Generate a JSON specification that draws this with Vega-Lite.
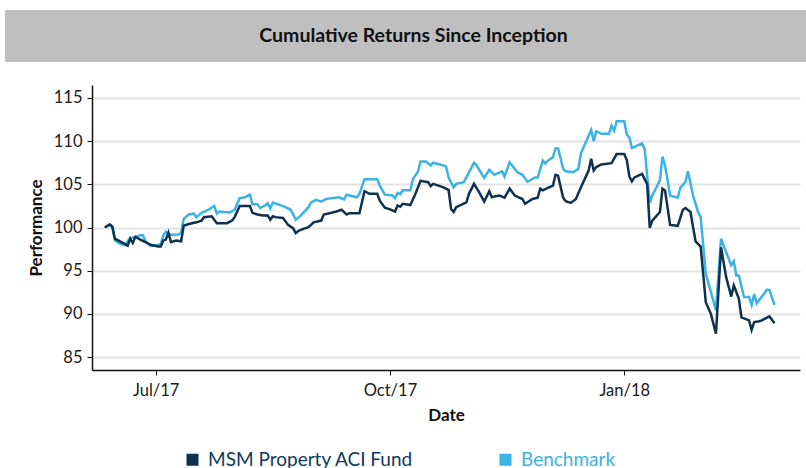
{
  "$schema": "https://vega.github.io/schema/vega-lite/v6.json",
  "padding": {"left": 5, "top": 10, "right": 0, "bottom": 0},
  "background": "white",
  "config": {"font": "Lato", "view": {"stroke": null}},
  "bounds": "flush",
  "center": true,
  "spacing": 23,
  "resolve": {"scale": {"color": "independent"}, "legend": {"color": "independent"}},
  "datasets": {
    "perf": [
      {"date": "2017-06-11", "series": "Benchmark", "value": 100.0},
      {"date": "2017-06-13", "series": "Benchmark", "value": 100.35},
      {"date": "2017-06-14", "series": "Benchmark", "value": 100.0},
      {"date": "2017-06-15", "series": "Benchmark", "value": 98.5},
      {"date": "2017-06-17", "series": "Benchmark", "value": 98.1},
      {"date": "2017-06-19", "series": "Benchmark", "value": 98.0},
      {"date": "2017-06-21", "series": "Benchmark", "value": 98.8},
      {"date": "2017-06-23", "series": "Benchmark", "value": 98.9},
      {"date": "2017-06-25", "series": "Benchmark", "value": 99.1},
      {"date": "2017-06-26", "series": "Benchmark", "value": 99.1},
      {"date": "2017-06-27", "series": "Benchmark", "value": 98.4},
      {"date": "2017-06-29", "series": "Benchmark", "value": 97.9},
      {"date": "2017-07-01", "series": "Benchmark", "value": 97.9},
      {"date": "2017-07-03", "series": "Benchmark", "value": 98.1},
      {"date": "2017-07-04", "series": "Benchmark", "value": 99.1},
      {"date": "2017-07-05", "series": "Benchmark", "value": 99.5},
      {"date": "2017-07-06", "series": "Benchmark", "value": 99.3},
      {"date": "2017-07-07", "series": "Benchmark", "value": 99.15},
      {"date": "2017-07-10", "series": "Benchmark", "value": 99.2},
      {"date": "2017-07-11", "series": "Benchmark", "value": 99.4},
      {"date": "2017-07-12", "series": "Benchmark", "value": 101.0},
      {"date": "2017-07-14", "series": "Benchmark", "value": 101.5},
      {"date": "2017-07-16", "series": "Benchmark", "value": 101.6},
      {"date": "2017-07-17", "series": "Benchmark", "value": 101.2},
      {"date": "2017-07-19", "series": "Benchmark", "value": 101.7},
      {"date": "2017-07-22", "series": "Benchmark", "value": 102.1},
      {"date": "2017-07-24", "series": "Benchmark", "value": 102.5},
      {"date": "2017-07-25", "series": "Benchmark", "value": 101.6},
      {"date": "2017-07-26", "series": "Benchmark", "value": 101.85},
      {"date": "2017-07-30", "series": "Benchmark", "value": 101.75},
      {"date": "2017-08-01", "series": "Benchmark", "value": 102.05},
      {"date": "2017-08-03", "series": "Benchmark", "value": 103.4},
      {"date": "2017-08-05", "series": "Benchmark", "value": 103.5},
      {"date": "2017-08-07", "series": "Benchmark", "value": 103.8},
      {"date": "2017-08-08", "series": "Benchmark", "value": 102.7},
      {"date": "2017-08-10", "series": "Benchmark", "value": 102.7},
      {"date": "2017-08-11", "series": "Benchmark", "value": 102.25},
      {"date": "2017-08-13", "series": "Benchmark", "value": 102.55},
      {"date": "2017-08-14", "series": "Benchmark", "value": 102.8},
      {"date": "2017-08-15", "series": "Benchmark", "value": 102.2},
      {"date": "2017-08-16", "series": "Benchmark", "value": 102.9},
      {"date": "2017-08-19", "series": "Benchmark", "value": 102.6},
      {"date": "2017-08-21", "series": "Benchmark", "value": 102.35},
      {"date": "2017-08-23", "series": "Benchmark", "value": 102.05},
      {"date": "2017-08-24", "series": "Benchmark", "value": 101.5},
      {"date": "2017-08-25", "series": "Benchmark", "value": 100.9},
      {"date": "2017-08-27", "series": "Benchmark", "value": 101.4},
      {"date": "2017-08-30", "series": "Benchmark", "value": 102.35},
      {"date": "2017-08-31", "series": "Benchmark", "value": 102.9},
      {"date": "2017-09-02", "series": "Benchmark", "value": 103.2},
      {"date": "2017-09-04", "series": "Benchmark", "value": 103.0},
      {"date": "2017-09-06", "series": "Benchmark", "value": 103.3},
      {"date": "2017-09-08", "series": "Benchmark", "value": 103.4},
      {"date": "2017-09-11", "series": "Benchmark", "value": 103.5},
      {"date": "2017-09-13", "series": "Benchmark", "value": 103.25},
      {"date": "2017-09-14", "series": "Benchmark", "value": 103.8},
      {"date": "2017-09-18", "series": "Benchmark", "value": 103.5},
      {"date": "2017-09-19", "series": "Benchmark", "value": 103.9},
      {"date": "2017-09-21", "series": "Benchmark", "value": 105.6},
      {"date": "2017-09-26", "series": "Benchmark", "value": 105.6},
      {"date": "2017-09-27", "series": "Benchmark", "value": 104.85},
      {"date": "2017-09-29", "series": "Benchmark", "value": 103.8},
      {"date": "2017-10-02", "series": "Benchmark", "value": 103.7},
      {"date": "2017-10-03", "series": "Benchmark", "value": 103.4},
      {"date": "2017-10-04", "series": "Benchmark", "value": 104.0},
      {"date": "2017-10-05", "series": "Benchmark", "value": 103.85},
      {"date": "2017-10-06", "series": "Benchmark", "value": 104.3},
      {"date": "2017-10-09", "series": "Benchmark", "value": 104.3},
      {"date": "2017-10-10", "series": "Benchmark", "value": 105.6},
      {"date": "2017-10-12", "series": "Benchmark", "value": 106.5},
      {"date": "2017-10-13", "series": "Benchmark", "value": 107.65},
      {"date": "2017-10-15", "series": "Benchmark", "value": 107.65},
      {"date": "2017-10-17", "series": "Benchmark", "value": 107.2},
      {"date": "2017-10-18", "series": "Benchmark", "value": 107.5},
      {"date": "2017-10-23", "series": "Benchmark", "value": 107.1},
      {"date": "2017-10-24", "series": "Benchmark", "value": 105.8},
      {"date": "2017-10-26", "series": "Benchmark", "value": 104.65},
      {"date": "2017-10-27", "series": "Benchmark", "value": 105.05},
      {"date": "2017-10-30", "series": "Benchmark", "value": 105.25},
      {"date": "2017-10-31", "series": "Benchmark", "value": 105.8},
      {"date": "2017-11-03", "series": "Benchmark", "value": 107.5},
      {"date": "2017-11-04", "series": "Benchmark", "value": 107.2},
      {"date": "2017-11-07", "series": "Benchmark", "value": 105.75},
      {"date": "2017-11-09", "series": "Benchmark", "value": 106.7},
      {"date": "2017-11-11", "series": "Benchmark", "value": 106.1},
      {"date": "2017-11-14", "series": "Benchmark", "value": 106.5},
      {"date": "2017-11-15", "series": "Benchmark", "value": 105.9},
      {"date": "2017-11-17", "series": "Benchmark", "value": 107.55},
      {"date": "2017-11-20", "series": "Benchmark", "value": 106.4},
      {"date": "2017-11-22", "series": "Benchmark", "value": 106.1},
      {"date": "2017-11-24", "series": "Benchmark", "value": 105.3},
      {"date": "2017-11-27", "series": "Benchmark", "value": 105.8},
      {"date": "2017-11-28", "series": "Benchmark", "value": 105.8},
      {"date": "2017-11-30", "series": "Benchmark", "value": 107.75},
      {"date": "2017-12-01", "series": "Benchmark", "value": 107.4},
      {"date": "2017-12-02", "series": "Benchmark", "value": 107.75},
      {"date": "2017-12-04", "series": "Benchmark", "value": 108.15},
      {"date": "2017-12-05", "series": "Benchmark", "value": 109.15},
      {"date": "2017-12-06", "series": "Benchmark", "value": 109.15},
      {"date": "2017-12-08", "series": "Benchmark", "value": 106.8},
      {"date": "2017-12-09", "series": "Benchmark", "value": 106.5},
      {"date": "2017-12-12", "series": "Benchmark", "value": 106.4},
      {"date": "2017-12-14", "series": "Benchmark", "value": 106.8},
      {"date": "2017-12-15", "series": "Benchmark", "value": 108.6},
      {"date": "2017-12-19", "series": "Benchmark", "value": 111.3},
      {"date": "2017-12-20", "series": "Benchmark", "value": 110.0},
      {"date": "2017-12-21", "series": "Benchmark", "value": 111.15},
      {"date": "2017-12-23", "series": "Benchmark", "value": 110.85},
      {"date": "2017-12-26", "series": "Benchmark", "value": 110.85},
      {"date": "2017-12-27", "series": "Benchmark", "value": 111.8},
      {"date": "2017-12-28", "series": "Benchmark", "value": 111.2},
      {"date": "2017-12-29", "series": "Benchmark", "value": 112.3},
      {"date": "2018-01-01", "series": "Benchmark", "value": 112.3},
      {"date": "2018-01-02", "series": "Benchmark", "value": 110.75},
      {"date": "2018-01-03", "series": "Benchmark", "value": 110.45},
      {"date": "2018-01-04", "series": "Benchmark", "value": 109.2},
      {"date": "2018-01-08", "series": "Benchmark", "value": 109.75},
      {"date": "2018-01-09", "series": "Benchmark", "value": 109.1},
      {"date": "2018-01-11", "series": "Benchmark", "value": 102.9},
      {"date": "2018-01-12", "series": "Benchmark", "value": 103.7},
      {"date": "2018-01-15", "series": "Benchmark", "value": 105.45},
      {"date": "2018-01-16", "series": "Benchmark", "value": 108.2},
      {"date": "2018-01-17", "series": "Benchmark", "value": 107.2},
      {"date": "2018-01-19", "series": "Benchmark", "value": 103.7},
      {"date": "2018-01-22", "series": "Benchmark", "value": 103.45},
      {"date": "2018-01-23", "series": "Benchmark", "value": 104.6},
      {"date": "2018-01-25", "series": "Benchmark", "value": 105.25},
      {"date": "2018-01-26", "series": "Benchmark", "value": 106.5},
      {"date": "2018-01-28", "series": "Benchmark", "value": 103.7},
      {"date": "2018-01-30", "series": "Benchmark", "value": 101.8},
      {"date": "2018-01-31", "series": "Benchmark", "value": 101.2},
      {"date": "2018-02-02", "series": "Benchmark", "value": 94.65},
      {"date": "2018-02-06", "series": "Benchmark", "value": 90.4},
      {"date": "2018-02-08", "series": "Benchmark", "value": 98.7},
      {"date": "2018-02-10", "series": "Benchmark", "value": 97.15},
      {"date": "2018-02-12", "series": "Benchmark", "value": 95.6},
      {"date": "2018-02-13", "series": "Benchmark", "value": 96.1},
      {"date": "2018-02-14", "series": "Benchmark", "value": 94.45},
      {"date": "2018-02-15", "series": "Benchmark", "value": 94.45},
      {"date": "2018-02-17", "series": "Benchmark", "value": 91.95},
      {"date": "2018-02-19", "series": "Benchmark", "value": 91.95},
      {"date": "2018-02-20", "series": "Benchmark", "value": 91.05},
      {"date": "2018-02-21", "series": "Benchmark", "value": 92.3},
      {"date": "2018-02-22", "series": "Benchmark", "value": 91.2},
      {"date": "2018-02-26", "series": "Benchmark", "value": 92.8},
      {"date": "2018-02-27", "series": "Benchmark", "value": 92.75},
      {"date": "2018-03-01", "series": "Benchmark", "value": 91.05},
      {"date": "2017-06-11", "series": "MSM Property ACI Fund", "value": 100.0},
      {"date": "2017-06-13", "series": "MSM Property ACI Fund", "value": 100.35},
      {"date": "2017-06-14", "series": "MSM Property ACI Fund", "value": 100.1},
      {"date": "2017-06-15", "series": "MSM Property ACI Fund", "value": 98.7},
      {"date": "2017-06-17", "series": "MSM Property ACI Fund", "value": 98.4},
      {"date": "2017-06-20", "series": "MSM Property ACI Fund", "value": 97.9},
      {"date": "2017-06-21", "series": "MSM Property ACI Fund", "value": 98.7},
      {"date": "2017-06-22", "series": "MSM Property ACI Fund", "value": 98.2},
      {"date": "2017-06-23", "series": "MSM Property ACI Fund", "value": 98.9},
      {"date": "2017-06-25", "series": "MSM Property ACI Fund", "value": 98.6},
      {"date": "2017-06-27", "series": "MSM Property ACI Fund", "value": 98.3},
      {"date": "2017-06-29", "series": "MSM Property ACI Fund", "value": 98.0},
      {"date": "2017-07-02", "series": "MSM Property ACI Fund", "value": 97.8},
      {"date": "2017-07-03", "series": "MSM Property ACI Fund", "value": 97.8},
      {"date": "2017-07-04", "series": "MSM Property ACI Fund", "value": 98.5},
      {"date": "2017-07-05", "series": "MSM Property ACI Fund", "value": 98.6},
      {"date": "2017-07-06", "series": "MSM Property ACI Fund", "value": 99.4},
      {"date": "2017-07-07", "series": "MSM Property ACI Fund", "value": 98.3},
      {"date": "2017-07-09", "series": "MSM Property ACI Fund", "value": 98.5},
      {"date": "2017-07-11", "series": "MSM Property ACI Fund", "value": 98.4},
      {"date": "2017-07-12", "series": "MSM Property ACI Fund", "value": 100.2},
      {"date": "2017-07-14", "series": "MSM Property ACI Fund", "value": 100.4},
      {"date": "2017-07-17", "series": "MSM Property ACI Fund", "value": 100.6},
      {"date": "2017-07-19", "series": "MSM Property ACI Fund", "value": 100.8},
      {"date": "2017-07-20", "series": "MSM Property ACI Fund", "value": 101.2},
      {"date": "2017-07-23", "series": "MSM Property ACI Fund", "value": 101.3},
      {"date": "2017-07-25", "series": "MSM Property ACI Fund", "value": 100.5},
      {"date": "2017-07-29", "series": "MSM Property ACI Fund", "value": 100.5},
      {"date": "2017-07-31", "series": "MSM Property ACI Fund", "value": 100.8},
      {"date": "2017-08-01", "series": "MSM Property ACI Fund", "value": 101.2},
      {"date": "2017-08-03", "series": "MSM Property ACI Fund", "value": 102.5},
      {"date": "2017-08-07", "series": "MSM Property ACI Fund", "value": 102.5},
      {"date": "2017-08-08", "series": "MSM Property ACI Fund", "value": 101.7},
      {"date": "2017-08-10", "series": "MSM Property ACI Fund", "value": 101.5},
      {"date": "2017-08-12", "series": "MSM Property ACI Fund", "value": 101.4},
      {"date": "2017-08-14", "series": "MSM Property ACI Fund", "value": 101.4},
      {"date": "2017-08-15", "series": "MSM Property ACI Fund", "value": 100.9},
      {"date": "2017-08-16", "series": "MSM Property ACI Fund", "value": 101.3},
      {"date": "2017-08-17", "series": "MSM Property ACI Fund", "value": 101.2},
      {"date": "2017-08-20", "series": "MSM Property ACI Fund", "value": 101.1},
      {"date": "2017-08-22", "series": "MSM Property ACI Fund", "value": 100.3},
      {"date": "2017-08-24", "series": "MSM Property ACI Fund", "value": 99.9},
      {"date": "2017-08-25", "series": "MSM Property ACI Fund", "value": 99.35},
      {"date": "2017-08-26", "series": "MSM Property ACI Fund", "value": 99.6},
      {"date": "2017-08-28", "series": "MSM Property ACI Fund", "value": 99.85},
      {"date": "2017-08-30", "series": "MSM Property ACI Fund", "value": 100.05},
      {"date": "2017-08-31", "series": "MSM Property ACI Fund", "value": 100.3},
      {"date": "2017-09-01", "series": "MSM Property ACI Fund", "value": 100.6},
      {"date": "2017-09-04", "series": "MSM Property ACI Fund", "value": 100.8},
      {"date": "2017-09-05", "series": "MSM Property ACI Fund", "value": 101.5},
      {"date": "2017-09-08", "series": "MSM Property ACI Fund", "value": 101.7},
      {"date": "2017-09-10", "series": "MSM Property ACI Fund", "value": 101.85},
      {"date": "2017-09-12", "series": "MSM Property ACI Fund", "value": 102.05},
      {"date": "2017-09-14", "series": "MSM Property ACI Fund", "value": 101.5},
      {"date": "2017-09-15", "series": "MSM Property ACI Fund", "value": 101.65},
      {"date": "2017-09-19", "series": "MSM Property ACI Fund", "value": 101.65},
      {"date": "2017-09-21", "series": "MSM Property ACI Fund", "value": 104.2},
      {"date": "2017-09-23", "series": "MSM Property ACI Fund", "value": 103.9},
      {"date": "2017-09-26", "series": "MSM Property ACI Fund", "value": 103.9},
      {"date": "2017-09-27", "series": "MSM Property ACI Fund", "value": 103.1},
      {"date": "2017-09-29", "series": "MSM Property ACI Fund", "value": 102.3},
      {"date": "2017-10-01", "series": "MSM Property ACI Fund", "value": 102.1},
      {"date": "2017-10-03", "series": "MSM Property ACI Fund", "value": 101.85},
      {"date": "2017-10-04", "series": "MSM Property ACI Fund", "value": 102.55},
      {"date": "2017-10-05", "series": "MSM Property ACI Fund", "value": 102.4},
      {"date": "2017-10-06", "series": "MSM Property ACI Fund", "value": 102.75},
      {"date": "2017-10-09", "series": "MSM Property ACI Fund", "value": 102.6},
      {"date": "2017-10-11", "series": "MSM Property ACI Fund", "value": 103.9},
      {"date": "2017-10-13", "series": "MSM Property ACI Fund", "value": 105.4},
      {"date": "2017-10-16", "series": "MSM Property ACI Fund", "value": 105.25},
      {"date": "2017-10-17", "series": "MSM Property ACI Fund", "value": 104.8},
      {"date": "2017-10-18", "series": "MSM Property ACI Fund", "value": 105.05},
      {"date": "2017-10-22", "series": "MSM Property ACI Fund", "value": 104.65},
      {"date": "2017-10-24", "series": "MSM Property ACI Fund", "value": 104.35},
      {"date": "2017-10-25", "series": "MSM Property ACI Fund", "value": 102.15},
      {"date": "2017-10-26", "series": "MSM Property ACI Fund", "value": 101.8},
      {"date": "2017-10-27", "series": "MSM Property ACI Fund", "value": 102.35},
      {"date": "2017-10-31", "series": "MSM Property ACI Fund", "value": 102.9},
      {"date": "2017-11-01", "series": "MSM Property ACI Fund", "value": 103.9},
      {"date": "2017-11-03", "series": "MSM Property ACI Fund", "value": 105.05},
      {"date": "2017-11-05", "series": "MSM Property ACI Fund", "value": 104.1},
      {"date": "2017-11-07", "series": "MSM Property ACI Fund", "value": 103.0},
      {"date": "2017-11-08", "series": "MSM Property ACI Fund", "value": 103.6},
      {"date": "2017-11-09", "series": "MSM Property ACI Fund", "value": 104.2},
      {"date": "2017-11-10", "series": "MSM Property ACI Fund", "value": 103.5},
      {"date": "2017-11-11", "series": "MSM Property ACI Fund", "value": 103.6},
      {"date": "2017-11-13", "series": "MSM Property ACI Fund", "value": 103.7},
      {"date": "2017-11-15", "series": "MSM Property ACI Fund", "value": 103.45},
      {"date": "2017-11-17", "series": "MSM Property ACI Fund", "value": 104.5},
      {"date": "2017-11-19", "series": "MSM Property ACI Fund", "value": 103.7},
      {"date": "2017-11-22", "series": "MSM Property ACI Fund", "value": 103.3},
      {"date": "2017-11-23", "series": "MSM Property ACI Fund", "value": 102.75},
      {"date": "2017-11-26", "series": "MSM Property ACI Fund", "value": 103.3},
      {"date": "2017-11-28", "series": "MSM Property ACI Fund", "value": 103.45},
      {"date": "2017-11-29", "series": "MSM Property ACI Fund", "value": 104.5},
      {"date": "2017-11-30", "series": "MSM Property ACI Fund", "value": 104.3},
      {"date": "2017-12-02", "series": "MSM Property ACI Fund", "value": 104.6},
      {"date": "2017-12-04", "series": "MSM Property ACI Fund", "value": 104.85},
      {"date": "2017-12-05", "series": "MSM Property ACI Fund", "value": 106.1},
      {"date": "2017-12-06", "series": "MSM Property ACI Fund", "value": 106.0},
      {"date": "2017-12-08", "series": "MSM Property ACI Fund", "value": 103.45},
      {"date": "2017-12-09", "series": "MSM Property ACI Fund", "value": 103.05},
      {"date": "2017-12-11", "series": "MSM Property ACI Fund", "value": 102.85},
      {"date": "2017-12-13", "series": "MSM Property ACI Fund", "value": 103.3},
      {"date": "2017-12-15", "series": "MSM Property ACI Fund", "value": 104.65},
      {"date": "2017-12-18", "series": "MSM Property ACI Fund", "value": 106.6},
      {"date": "2017-12-19", "series": "MSM Property ACI Fund", "value": 107.95},
      {"date": "2017-12-20", "series": "MSM Property ACI Fund", "value": 106.6},
      {"date": "2017-12-21", "series": "MSM Property ACI Fund", "value": 107.0},
      {"date": "2017-12-23", "series": "MSM Property ACI Fund", "value": 107.3},
      {"date": "2017-12-27", "series": "MSM Property ACI Fund", "value": 107.45},
      {"date": "2017-12-29", "series": "MSM Property ACI Fund", "value": 108.5},
      {"date": "2018-01-01", "series": "MSM Property ACI Fund", "value": 108.5},
      {"date": "2018-01-02", "series": "MSM Property ACI Fund", "value": 107.8},
      {"date": "2018-01-03", "series": "MSM Property ACI Fund", "value": 105.9},
      {"date": "2018-01-04", "series": "MSM Property ACI Fund", "value": 105.35},
      {"date": "2018-01-05", "series": "MSM Property ACI Fund", "value": 105.8},
      {"date": "2018-01-08", "series": "MSM Property ACI Fund", "value": 106.2},
      {"date": "2018-01-09", "series": "MSM Property ACI Fund", "value": 105.6},
      {"date": "2018-01-10", "series": "MSM Property ACI Fund", "value": 105.0},
      {"date": "2018-01-11", "series": "MSM Property ACI Fund", "value": 99.95},
      {"date": "2018-01-12", "series": "MSM Property ACI Fund", "value": 100.8},
      {"date": "2018-01-15", "series": "MSM Property ACI Fund", "value": 101.8},
      {"date": "2018-01-16", "series": "MSM Property ACI Fund", "value": 104.5},
      {"date": "2018-01-17", "series": "MSM Property ACI Fund", "value": 104.3},
      {"date": "2018-01-19", "series": "MSM Property ACI Fund", "value": 100.3},
      {"date": "2018-01-22", "series": "MSM Property ACI Fund", "value": 100.2},
      {"date": "2018-01-24", "series": "MSM Property ACI Fund", "value": 102.05},
      {"date": "2018-01-25", "series": "MSM Property ACI Fund", "value": 102.25},
      {"date": "2018-01-27", "series": "MSM Property ACI Fund", "value": 101.8},
      {"date": "2018-01-28", "series": "MSM Property ACI Fund", "value": 100.05},
      {"date": "2018-01-29", "series": "MSM Property ACI Fund", "value": 98.4},
      {"date": "2018-01-31", "series": "MSM Property ACI Fund", "value": 97.8},
      {"date": "2018-02-02", "series": "MSM Property ACI Fund", "value": 91.35},
      {"date": "2018-02-04", "series": "MSM Property ACI Fund", "value": 90.0},
      {"date": "2018-02-06", "series": "MSM Property ACI Fund", "value": 87.7},
      {"date": "2018-02-08", "series": "MSM Property ACI Fund", "value": 97.7},
      {"date": "2018-02-10", "series": "MSM Property ACI Fund", "value": 94.25},
      {"date": "2018-02-12", "series": "MSM Property ACI Fund", "value": 92.0},
      {"date": "2018-02-13", "series": "MSM Property ACI Fund", "value": 93.3},
      {"date": "2018-02-15", "series": "MSM Property ACI Fund", "value": 91.75},
      {"date": "2018-02-16", "series": "MSM Property ACI Fund", "value": 89.6},
      {"date": "2018-02-19", "series": "MSM Property ACI Fund", "value": 89.25},
      {"date": "2018-02-20", "series": "MSM Property ACI Fund", "value": 88.15},
      {"date": "2018-02-21", "series": "MSM Property ACI Fund", "value": 89.05},
      {"date": "2018-02-23", "series": "MSM Property ACI Fund", "value": 89.15},
      {"date": "2018-02-24", "series": "MSM Property ACI Fund", "value": 89.25},
      {"date": "2018-02-27", "series": "MSM Property ACI Fund", "value": 89.7},
      {"date": "2018-03-01", "series": "MSM Property ACI Fund", "value": 88.9}
    ]
  },
  "vconcat": [
    {
      "width": 882,
      "height": 52,
      "view": {"fill": "#bfbfbf", "stroke": null},
      "data": {"values": [{"label": "Cumulative Returns Since Inception"}]},
      "mark": {"type": "text", "font": "Lato", "fontSize": 19.5, "fontWeight": "bold", "color": "#111111", "dx": -32.5},
      "encoding": {"text": {"field": "label", "type": "nominal"}}
    },
    {
      "width": 708,
      "height": 285,
      "data": {"name": "perf"},
      "mark": {"type": "line", "strokeWidth": 2.5},
      "encoding": {
        "x": {
          "field": "date",
          "type": "temporal",
          "scale": {
            "type": "utc",
            "domain": [
              {"year": 2017, "month": 6, "date": 6, "utc": true},
              {"year": 2018, "month": 3, "date": 11, "utc": true}
            ]
          },
          "axis": {
            "title": "Date",
            "format": "%b/%y",
            "values": [
              {"year": 2017, "month": 7, "date": 1, "utc": true},
              {"year": 2017, "month": 10, "date": 1, "utc": true},
              {"year": 2018, "month": 1, "date": 1, "utc": true}
            ],
            "grid": false,
            "domainColor": "#111111",
            "domainWidth": 1.5,
            "tickColor": "#111111",
            "tickSize": 5,
            "labelFontSize": 16.5,
            "labelColor": "#1a1a1a",
            "labelPadding": 7,
            "titleFontSize": 17,
            "titleFontWeight": "bold",
            "titleColor": "#111111",
            "titlePadding": 9
          }
        },
        "y": {
          "field": "value",
          "type": "quantitative",
          "scale": {"domain": [83.5, 116.5], "nice": false, "zero": false},
          "axis": {
            "title": "Performance",
            "values": [85, 90, 95, 100, 105, 110, 115],
            "grid": true,
            "gridColor": "#e3e3e3",
            "gridWidth": 2,
            "domainColor": "#111111",
            "domainWidth": 1.5,
            "tickColor": "#111111",
            "tickSize": 5,
            "labelFontSize": 16.5,
            "labelColor": "#1a1a1a",
            "labelPadding": 5,
            "titleFontSize": 17,
            "titleFontWeight": "bold",
            "titleColor": "#111111",
            "titlePadding": 8
          }
        },
        "color": {
          "field": "series",
          "type": "nominal",
          "scale": {
            "domain": ["MSM Property ACI Fund", "Benchmark"],
            "range": ["#0e3150", "#3cb3e4"]
          },
          "legend": {
            "orient": "none",
            "legendX": 91,
            "legendY": 365,
            "direction": "horizontal",
            "title": null,
            "padding": 0,
            "symbolType": "square",
            "symbolSize": 4,
            "symbolStrokeWidth": 10,
            "labelFont": "Lato",
            "labelFontSize": 19,
            "labelOffset": 6,
            "labelLimit": 400,
            "columnPadding": 70,
            "labelColor": {"expr": "datum.label == 'Benchmark' ? '#3cb3e4' : '#0d3b5e'"}
          }
        }
      }
    }
  ]
}
